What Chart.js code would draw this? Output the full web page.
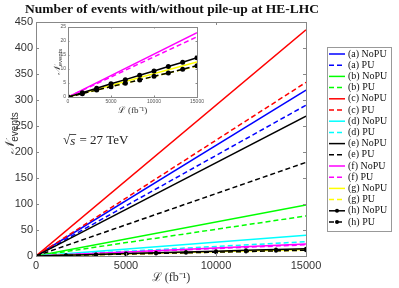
<!DOCTYPE html>
<html>
<head>
<meta charset="utf-8">
<script src="https://cdn.jsdelivr.net/npm/chart.js@4"></script>
<style>
body { margin: 0; background: #fff; }
#wrap { position: relative; width: 399px; height: 288px; }
#main { position: absolute; left: 0; top: 0; }
#inset { position: absolute; left: 40px; top: 22px; }
</style>
</head>
<body>
<div id="wrap">
  <canvas id="main" width="399" height="288"></canvas>
  <canvas id="inset" width="170" height="98"></canvas>
</div>
<script>
// luminosity (fb^-1) where the values were read
var lumi = [0, 15000];
var lumiMarked = [0, 1667, 3333, 5000, 6667, 8333, 10000, 11667, 13333, 15000];

var tags = ['(a)', '(b)', '(c)', '(d)', '(e)', '(f)', '(g)', '(h)'];
var colours = ['#0000ff', '#00ff00', '#ff0000', '#00ffff', '#000000', '#ff00ff', '#ffff00', '#000000'];

// number of events, without and with pile-up
var nopuA = [0, 319],  puA = [0, 290];
var nopuB = [0, 98],   puB = [0, 77];
var nopuC = [0, 435],  puC = [0, 334];
var nopuD = [0, 40],   puD = [0, 27.5];
var nopuE = [0, 269],  puE = [0, 180];
var nopuF = [0, 23],   puF = [0, 21.5];
var nopuG = [0, 12.5], puG = [0, 11];
var nopuH = [0, 1.5, 3.1, 4.7, 6.2, 7.8, 9.3, 10.9, 12.4, 14.0];
var puH   = [0, 1.2, 2.5, 3.7, 4.9, 6.1, 7.4, 8.6, 9.9, 11.2];

var nopu = [nopuA, nopuB, nopuC, nopuD, nopuE, nopuF, nopuG, nopuH];
var pu = [puA, puB, puC, puD, puE, puF, puG, puH];

var xTicks = [0, 5000, 10000, 15000];

function pts(xs, ys) {
  return ys.map(function (v, i) { return { x: xs[i], y: v }; });
}

function makeSets(which, r) {
  var out = [];
  which.forEach(function (i) {
    var xs = i === 7 ? lumiMarked : lumi;
    var rad = i === 7 ? r : 0;
    out.push({ label: tags[i] + ' NoPU', data: pts(xs, nopu[i]), borderColor: colours[i], backgroundColor: colours[i],
      borderWidth: 1.5, pointRadius: rad, pointBorderWidth: 0, order: 100 - 2 * i });
    out.push({ label: tags[i] + ' PU', data: pts(xs, pu[i]), borderColor: colours[i], backgroundColor: colours[i],
      borderWidth: 1.5, borderDash: [5, 3], pointRadius: rad, pointBorderWidth: 0, order: 99 - 2 * i });
  });
  return out;
}

function plain(v) { return String(v); }

// inward ticks and a full box, like the original
function boxTicks(chart, len, col) {
  var ctx = chart.ctx, a = chart.chartArea;
  ctx.save();
  ctx.strokeStyle = col;
  ctx.lineWidth = 1;
  ctx.strokeRect(a.left + 0.5, a.top + 0.5, a.right - a.left, a.bottom - a.top);
  ctx.beginPath();
  chart.scales.x.ticks.forEach(function (t) {
    var px = Math.round(chart.scales.x.getPixelForValue(t.value)) + 0.5;
    ctx.moveTo(px, a.bottom); ctx.lineTo(px, a.bottom - len);
    ctx.moveTo(px, a.top); ctx.lineTo(px, a.top + len);
  });
  chart.scales.y.ticks.forEach(function (t) {
    var py = Math.round(chart.scales.y.getPixelForValue(t.value)) + 0.5;
    ctx.moveTo(a.left, py); ctx.lineTo(a.left + len, py);
    ctx.moveTo(a.right, py); ctx.lineTo(a.right - len, py);
  });
  ctx.stroke();
  ctx.restore();
}

function drawNLabel(ctx, x, y, big, small) {
  ctx.save();
  ctx.translate(x, y);
  ctx.rotate(-Math.PI / 2);
  ctx.fillStyle = '#333';
  ctx.textBaseline = 'middle';
  ctx.font = 'italic ' + big + 'px "DejaVu Serif"';
  var w1 = ctx.measureText('\u{1D4A9}').width;
  ctx.font = small + 'px "Liberation Sans"';
  var w2 = ctx.measureText('events').width;
  var x0 = -(w1 + w2) / 2;
  ctx.font = 'italic ' + big + 'px "DejaVu Serif"';
  ctx.textAlign = 'left';
  ctx.fillText('\u{1D4A9}', x0, 0);
  ctx.font = small + 'px "Liberation Sans"';
  ctx.fillText('events', x0 + w1, big * 0.3);
  ctx.restore();
}

var mainDecor = {
  id: 'mainDecor',
  afterDraw: function (chart) {
    var ctx = chart.ctx, a = chart.chartArea;
    boxTicks(chart, 3, '#888');
    ctx.save();
    ctx.fillStyle = '#111';
    ctx.textAlign = 'center';
    ctx.textBaseline = 'middle';
    ctx.font = 'bold 13.5px "Liberation Serif"';
    ctx.fillText('Number of events with/without pile-up at HE-LHC', 172, 10);
    ctx.fillStyle = '#333';
    ctx.font = '12px "Liberation Serif"';
    ctx.fillText('\u2112 (fb\u207B\u00B9)', (a.left + a.right) / 2, 278);

    // sqrt(s) = 27 TeV with an overbar on the radical
    ctx.textAlign = 'left';
    ctx.fillStyle = '#222';
    ctx.font = '13px "Liberation Serif"';
    var x0 = 63, yb = 141;
    var wr = ctx.measureText('\u221A').width;
    ctx.fillText('\u221A', x0, yb);
    ctx.font = 'italic 13px "Liberation Serif"';
    var ws = ctx.measureText('s').width;
    ctx.fillText('s', x0 + wr, yb + 1);
    ctx.strokeStyle = '#222';
    ctx.lineWidth = 0.8;
    ctx.beginPath();
    ctx.moveTo(x0 + wr - 0.5, yb - 6.5);
    ctx.lineTo(x0 + wr + ws + 1, yb - 6.5);
    ctx.stroke();
    ctx.font = '13px "Liberation Serif"';
    ctx.fillText(' = 27 TeV', x0 + wr + ws + 1, yb);
    ctx.restore();
    drawNLabel(ctx, 11, 133, 13, 10);

    // legend
    var lx = 327, ly = 47, lw = 64, lh = 184, rowH = 11.2;
    var sets = chart.data.datasets;
    ctx.save();
    ctx.fillStyle = '#fff';
    ctx.fillRect(lx, ly, lw, lh);
    ctx.strokeStyle = '#999';
    ctx.lineWidth = 1;
    ctx.strokeRect(lx + 0.5, ly + 0.5, lw, lh);
    ctx.font = '10px "Liberation Serif"';
    ctx.textBaseline = 'middle';
    ctx.textAlign = 'left';
    sets.forEach(function (d, i) {
      var cy = ly + 7 + rowH * i;
      ctx.strokeStyle = d.borderColor;
      ctx.lineWidth = 1.5;
      ctx.setLineDash(d.borderDash || []);
      ctx.beginPath();
      ctx.moveTo(329, cy); ctx.lineTo(345, cy);
      ctx.stroke();
      ctx.setLineDash([]);
      if (d.pointRadius > 0) {
        ctx.fillStyle = d.borderColor;
        ctx.beginPath();
        ctx.arc(337, cy, 2, 0, Math.PI * 2);
        ctx.fill();
      }
      ctx.fillStyle = '#111';
      ctx.fillText(d.label, 348, cy);
    });
    ctx.restore();
  }
};

new Chart(document.getElementById('main'), {
  type: 'line',
  data: { datasets: makeSets([0, 1, 2, 3, 4, 5, 6, 7], 2) },
  options: {
    responsive: false,
    animation: false,
    layout: { padding: { left: 0, top: 22, right: 93, bottom: 0 } },
    plugins: { legend: { display: false }, tooltip: { enabled: false } },
    scales: {
      x: {
        type: 'linear', min: 0, max: 15000,
        afterBuildTicks: function (s) { s.ticks = xTicks.map(function (v) { return { value: v }; }); },
        afterFit: function (s) { s.height = 32; },
        grid: { display: false, drawTicks: false },
        border: { display: false },
        ticks: { padding: 3, maxRotation: 0, color: '#333', callback: plain, font: { family: 'Liberation Sans', size: 11 } }
      },
      y: {
        min: 0, max: 450,
        afterFit: function (s) { s.width = 36; },
        grid: { display: false, drawTicks: false },
        border: { display: false },
        ticks: { stepSize: 50, padding: 3, color: '#333', callback: plain, font: { family: 'Liberation Sans', size: 11 } }
      }
    }
  },
  plugins: [mainDecor]
});

var insetDecor = {
  id: 'insetDecor',
  beforeDraw: function (chart) {
    var ctx = chart.ctx, a = chart.chartArea;
    ctx.save();
    ctx.fillStyle = '#fff';
    // white only behind the inset axes and its labels, so the red line stays visible to the right
    ctx.fillRect(0, 1, a.right + 8, a.bottom + 8);
    ctx.fillRect(0, a.bottom, a.right - 8, chart.height - a.bottom);
    ctx.restore();
  },
  afterDraw: function (chart) {
    var ctx = chart.ctx, a = chart.chartArea;
    boxTicks(chart, 1.5, '#888');
    ctx.save();
    ctx.fillStyle = '#333';
    ctx.textAlign = 'center';
    ctx.textBaseline = 'middle';
    ctx.font = '9px "Liberation Serif"';
    ctx.fillText('\u2112 (fb\u207B\u00B9)', (a.left + a.right) / 2, 89);
    ctx.restore();
    drawNLabel(ctx, 18, (a.top + a.bottom) / 2, 9, 6);
  }
};

new Chart(document.getElementById('inset'), {
  type: 'line',
  data: { datasets: makeSets([5, 6, 7], 2.5) },
  options: {
    responsive: false,
    animation: false,
    layout: { padding: { left: 0, top: 3, right: 13, bottom: 0 } },
    plugins: { legend: { display: false }, tooltip: { enabled: false } },
    scales: {
      x: {
        type: 'linear', min: 0, max: 15000,
        afterBuildTicks: function (s) { s.ticks = xTicks.map(function (v) { return { value: v }; }); },
        afterFit: function (s) { s.height = 23; },
        grid: { display: false, drawTicks: false },
        border: { display: false },
        ticks: { padding: 2, maxRotation: 0, color: '#555', callback: plain, font: { family: 'Liberation Sans', size: 5 } }
      },
      y: {
        min: 0, max: 25,
        afterFit: function (s) { s.width = 28; },
        grid: { display: false, drawTicks: false },
        border: { display: false },
        ticks: { stepSize: 5, padding: 2, color: '#555', callback: plain, font: { family: 'Liberation Sans', size: 5 } }
      }
    }
  },
  plugins: [insetDecor]
});
</script>
</body>
</html>
